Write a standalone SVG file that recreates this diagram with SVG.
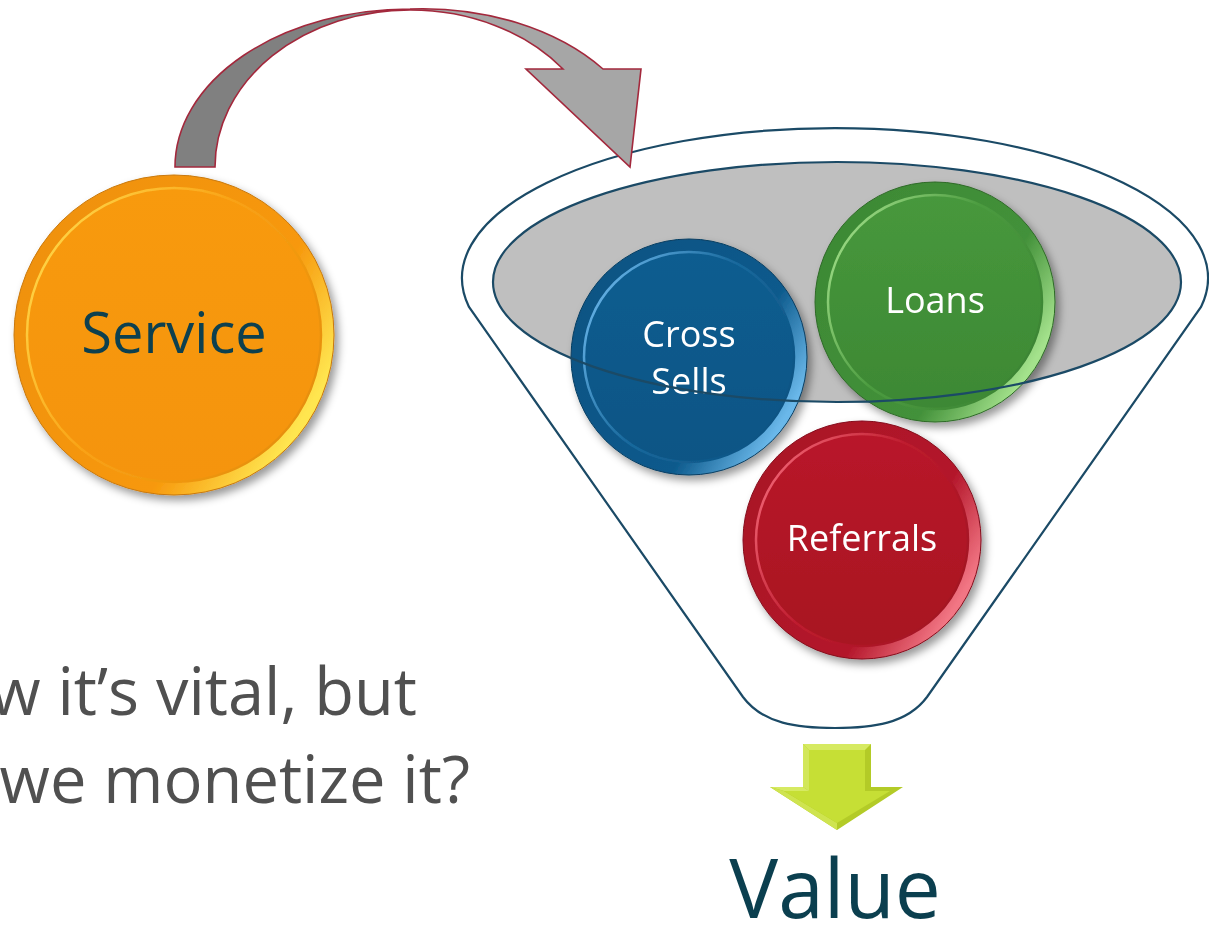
<svg xmlns="http://www.w3.org/2000/svg" width="1209" height="927" viewBox="0 0 1209 927">
  <defs>
    <style>
      .lbl { font-family: "Open Sans", "Liberation Sans", sans-serif; text-anchor: middle; }
      .white { fill: #ffffff; font-size: 36px; }
      .dark { fill: #0b3f4f; }
      .note { font-family: "Open Sans", "Liberation Sans", sans-serif; font-size: 65px; fill: #505050; text-anchor: end; }
      .funnel { fill: none; stroke: #1b4a66; stroke-width: 2.2; }
      .arrow-edge { fill: none; stroke: #a3283c; stroke-width: 1.6; stroke-linejoin: miter; }
      .rim { stroke-width: 1; }
      .bevel { stroke-width: 2.5; }
    </style>
    <filter id="shadow" x="-20%" y="-20%" width="150%" height="150%">
      <feDropShadow dx="4" dy="5" stdDeviation="4" flood-color="#000" flood-opacity="0.4"/>
    </filter>
    <!-- bevel rings: bright only at the lower-right outer edge -->
    <linearGradient id="ringOrange" x1="0" y1="0" x2="1" y2="0.6">
      <stop offset="0" stop-color="#ee900a"/>
      <stop offset="0.75" stop-color="#f7980c"/>
      <stop offset="1" stop-color="#ffe650"/>
    </linearGradient>
    <linearGradient id="edgeOrange" x1="0" y1="0.2" x2="1" y2="0.8">
      <stop offset="0" stop-color="#ffd84a"/>
      <stop offset="0.45" stop-color="#f9a215"/>
      <stop offset="1" stop-color="#e58c0a"/>
    </linearGradient>
    <linearGradient id="ringBlue" x1="0" y1="0" x2="1" y2="0.6">
      <stop offset="0" stop-color="#0b5282"/>
      <stop offset="0.75" stop-color="#0d5a8c"/>
      <stop offset="1" stop-color="#6ab8ea"/>
    </linearGradient>
    <linearGradient id="edgeBlue" x1="0" y1="0.2" x2="1" y2="0.8">
      <stop offset="0" stop-color="#6ab6ea"/>
      <stop offset="0.45" stop-color="#1a6a9e"/>
      <stop offset="1" stop-color="#0a5080"/>
    </linearGradient>
    <linearGradient id="ringGreen" x1="0" y1="0" x2="1" y2="0.6">
      <stop offset="0" stop-color="#3c8834"/>
      <stop offset="0.75" stop-color="#43913a"/>
      <stop offset="1" stop-color="#a4e28c"/>
    </linearGradient>
    <linearGradient id="edgeGreen" x1="0" y1="0.2" x2="1" y2="0.8">
      <stop offset="0" stop-color="#a0de88"/>
      <stop offset="0.45" stop-color="#4c9c40"/>
      <stop offset="1" stop-color="#3a8232"/>
    </linearGradient>
    <linearGradient id="ringRed" x1="0" y1="0" x2="1" y2="0.6">
      <stop offset="0" stop-color="#a81426"/>
      <stop offset="0.75" stop-color="#b3162a"/>
      <stop offset="1" stop-color="#f27684"/>
    </linearGradient>
    <linearGradient id="edgeRed" x1="0" y1="0.2" x2="1" y2="0.8">
      <stop offset="0" stop-color="#f26676"/>
      <stop offset="0.45" stop-color="#be1c2e"/>
      <stop offset="1" stop-color="#a01222"/>
    </linearGradient>
    <linearGradient id="faceOrange" x1="0" y1="0" x2="0" y2="1">
      <stop offset="0" stop-color="#f89a0e"/>
      <stop offset="1" stop-color="#f5940a"/>
    </linearGradient>
    <linearGradient id="faceBlue" x1="0" y1="0" x2="0" y2="1">
      <stop offset="0" stop-color="#0e5d90"/>
      <stop offset="1" stop-color="#0b5585"/>
    </linearGradient>
    <linearGradient id="faceGreen" x1="0" y1="0" x2="0" y2="1">
      <stop offset="0" stop-color="#47983c"/>
      <stop offset="1" stop-color="#3d8834"/>
    </linearGradient>
    <linearGradient id="faceRed" x1="0" y1="0" x2="0" y2="1">
      <stop offset="0" stop-color="#b9182a"/>
      <stop offset="1" stop-color="#a81221"/>
    </linearGradient>
  </defs>

  <rect width="1209" height="927" fill="#ffffff"/>

  <!-- funnel body and its gray mouth -->
  <g id="funnel">
    <path class="funnel" d="M469,307 A373,150 0 1 1 1201,307 L927,697 C907,724 872,728 835,728 C798,728 763,724 743,697 Z"/>
    <ellipse id="funnel-mouth" cx="837" cy="282" rx="344" ry="120" fill="#bfbfbf"/>
  </g>

  <!-- service node -->
  <g id="node-service" filter="url(#shadow)">
    <circle class="rim" cx="174" cy="335" r="160" fill="url(#ringOrange)" stroke="#c97808"/>
    <circle class="bevel" cx="174" cy="335" r="147" fill="url(#faceOrange)" stroke="url(#edgeOrange)"/>
    <text class="lbl dark" x="174" y="353" font-size="56">Service</text>
  </g>

  <!-- value streams inside the funnel -->
  <g id="node-cross-sells" filter="url(#shadow)">
    <circle class="rim" cx="689" cy="357" r="118" fill="url(#ringBlue)" stroke="#073e62"/>
    <circle class="bevel" cx="689" cy="357" r="105" fill="url(#faceBlue)" stroke="url(#edgeBlue)"/>
    <text class="lbl white" x="689" y="347">Cross</text>
    <text class="lbl white" x="689" y="394">Sells</text>
  </g>

  <g id="node-loans" filter="url(#shadow)">
    <circle class="rim" cx="935" cy="302" r="120" fill="url(#ringGreen)" stroke="#2e6a27"/>
    <circle class="bevel" cx="935" cy="302" r="107" fill="url(#faceGreen)" stroke="url(#edgeGreen)"/>
    <text class="lbl white" x="935" y="313">Loans</text>
  </g>

  <g id="node-referrals" filter="url(#shadow)">
    <circle class="rim" cx="862" cy="540" r="119" fill="url(#ringRed)" stroke="#850e1c"/>
    <circle class="bevel" cx="862" cy="540" r="106" fill="url(#faceRed)" stroke="url(#edgeRed)"/>
    <text class="lbl white" x="862" y="551">Referrals</text>
  </g>

  <!-- rim of the mouth drawn over the circles -->
  <ellipse cx="837" cy="282" rx="344" ry="120" class="funnel"/>

  <g id="connectors">
    <!-- curved block arrow from Service into the funnel -->
    <g id="arrow-service-funnel">
      <path d="M175,167 A235,158 0 0 1 410,9 L410,10 A195,157 0 0 0 215,167 Z" fill="#808080"/>
      <path d="M410,9 A230,158 0 0 1 603,69 L641,69 L630,167 L526,69 L563,69 A195,157 0 0 0 410,10 Z" fill="#a6a6a6"/>
      <path class="arrow-edge" d="M175,167 A235,158 0 0 1 410,9 A230,158 0 0 1 603,69 L641,69 L630,167 L526,69 L563,69 A195,157 0 0 0 410,10 A195,157 0 0 0 215,167 Z"/>
    </g>
    <!-- bevelled down arrow out of the funnel -->
    <g id="arrow-funnel-value">
      <polygon points="803,744 871,744 871,787 903,787 837,830 770,787 803,787" fill="#b3cb27"/>
      <polygon points="803,744 871,744 865,750 809,750" fill="#d6ea62"/>
      <polygon points="803,744 809,750 809,791 803,787" fill="#d2e75a"/>
      <polygon points="770,787 803,787 809,791 784,791" fill="#d6ea62"/>
      <polygon points="770,787 784,791 837,823 837,830" fill="#cfe450"/>
      <polygon points="809,750 865,750 865,791 890,791 837,823 784,791 809,791" fill="#c6df35"/>
    </g>
  </g>

  <!-- captions -->
  <text class="lbl dark" x="835" y="918" font-size="82">Value</text>
  <text class="note" x="417" y="715">w it’s vital, but</text>
  <text class="note" x="470" y="803">we monetize it?</text>
</svg>
